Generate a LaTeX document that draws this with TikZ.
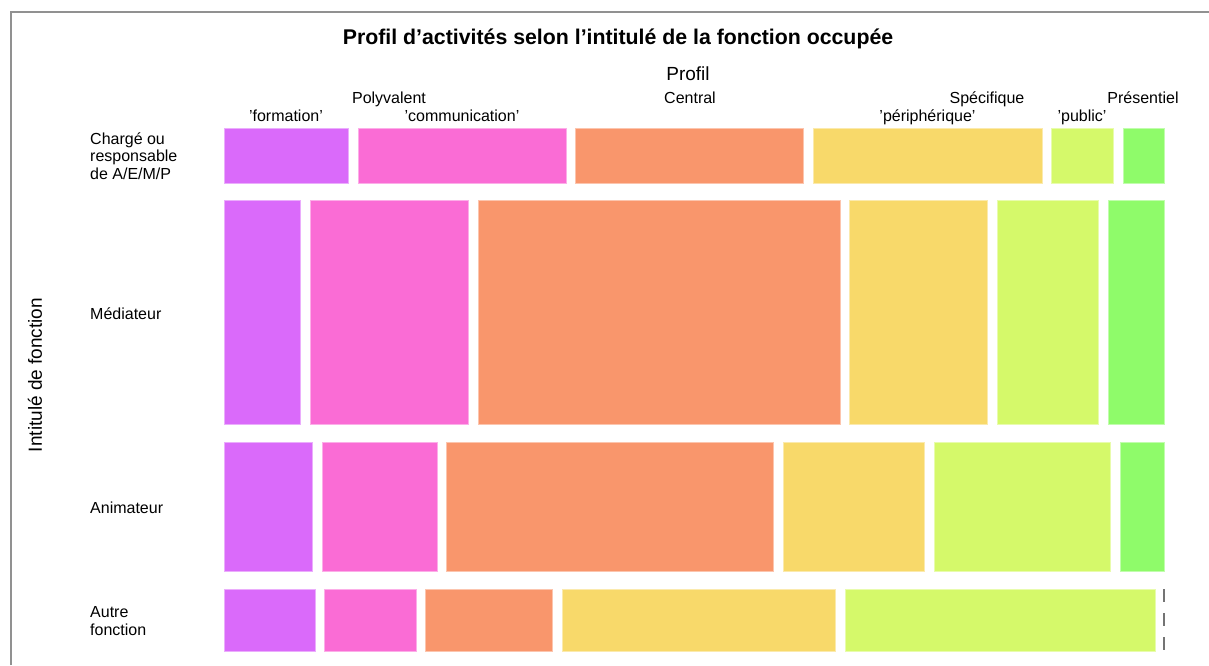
\documentclass[tikz,border=0pt]{standalone}
\usepackage{fontspec}
\setmainfont{Liberation Sans}
\usepackage{xcolor}
\definecolor{formationViolet}{RGB}{218,106,250}
\definecolor{communicationPink}{RGB}{250,108,213}
\definecolor{centralOrange}{RGB}{249,150,108}
\definecolor{peripheriqueYellow}{RGB}{248,217,106}
\definecolor{publicLime}{RGB}{213,249,106}
\definecolor{presentielGreen}{RGB}{143,251,106}
\definecolor{frameGray}{RGB}{145,145,145}

\begin{document}
\begin{tikzpicture}[x=1pt, y=-1pt,
		tile/.style={fill=#1, draw=#1!55!white, line width=0.7pt},
		headLab/.style={anchor=base, inner sep=0pt, font=\fontsize{16}{18}\selectfont},
		rowLab/.style={anchor=base west, inner sep=0pt, align=left, font=\fontsize{16}{17.5}\selectfont},
		axisLab/.style={inner sep=0pt, font=\fontsize{19}{21}\selectfont}]
			\useasboundingbox (0,0) rectangle (1209,665);

			% Frame
			\draw[frameGray, line width=2pt] (10.5,665) -- (10.5,11.5) -- (1209,11.5);

			% Title and axis names
			\node[anchor=base, inner sep=0pt, font=\bfseries\fontsize{21.3}{23}\selectfont] (title) at (618,44.5) {Profil d'activités selon l'intitulé de la fonction occupée};
			\node[axisLab, anchor=base] (profil) at (688,80) {Profil};
			\node[axisLab, rotate=90] (intitule) at (35,375) {Intitulé de fonction};

			% Column labels
			\node[headLab] (polyvalent) at (389,103) {Polyvalent};
			\node[headLab] (central) at (690,103) {Central};
			\node[headLab] (specifique) at (987,103) {Spécifique};
			\node[headLab] (presentiel) at (1143,103) {Présentiel};
			\node[headLab] (formation) at (286,121) {'formation'};
			\node[headLab] (communication) at (462,121) {'communication'};
			\node[headLab] (peripherique) at (927.5,121) {'périphérique'};
			\node[headLab] (public) at (1082,121) {'public'};

			% Row labels (base = last line)
			\node[rowLab] (charge) at (90,179) {Chargé ou\\responsable\\de A/E/M/P};
			\node[rowLab] (mediateur) at (90,319) {Médiateur};
			\node[rowLab] (animateur) at (90,513) {Animateur};
			\node[rowLab] (autre) at (90,635) {Autre\\fonction};

			% Tiles, row by row
			\foreach \xa/\xb/\c in {224/348/formationViolet, 358/566/communicationPink, 575/803/centralOrange,
				813/1042/peripheriqueYellow, 1051/1113/publicLime, 1123/1164/presentielGreen}
			\draw[tile=\c] (\xa,128) rectangle (\xb,183);

			\foreach \xa/\xb/\c in {224/300/formationViolet, 310/468/communicationPink, 478/840/centralOrange,
				849/987/peripheriqueYellow, 997/1098/publicLime, 1108/1164/presentielGreen}
			\draw[tile=\c] (\xa,200) rectangle (\xb,424);

			\foreach \xa/\xb/\c in {224/312/formationViolet, 322/437/communicationPink, 446/773/centralOrange,
				783/924/peripheriqueYellow, 934/1110/publicLime, 1120/1164/presentielGreen}
			\draw[tile=\c] (\xa,442) rectangle (\xb,571);

			\foreach \xa/\xb/\c in {224/315/formationViolet, 324/416/communicationPink, 425/552/centralOrange,
				562/835/peripheriqueYellow, 845/1155/publicLime}
			\draw[tile=\c] (\xa,589) rectangle (\xb,651);

			% Empty cell
			\draw[frameGray!80!black, line width=1.2pt, dash pattern=on 13pt off 11pt] (1164,589) -- (1164,652);
		\end{tikzpicture}
\end{document}
